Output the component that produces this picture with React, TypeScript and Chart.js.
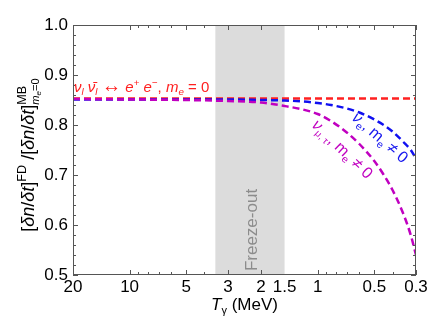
import React, { useEffect, useRef } from "react";
import { Chart, registerables } from "chart.js";

Chart.register(...registerables);

// ---- data ----
const T_VALUES = [20, 10, 5, 3, 2, 1.5, 1.2, 1, 0.85, 0.7, 0.6, 0.5, 0.45, 0.4, 0.35, 0.32, 0.3];
const RED_MASSLESS = [0.853, 0.853, 0.853, 0.853, 0.853, 0.853, 0.853, 0.853, 0.853, 0.853, 0.853, 0.853, 0.853, 0.853, 0.853, 0.853, 0.853];
const BLUE_NUE = [0.851, 0.851, 0.851, 0.851, 0.85, 0.849, 0.847, 0.844, 0.84, 0.833, 0.825, 0.811, 0.801, 0.787, 0.766, 0.75, 0.733];
const MAGENTA_NUMUTAU = [0.852, 0.851, 0.85, 0.848, 0.845, 0.838, 0.831, 0.822, 0.808, 0.785, 0.762, 0.728, 0.703, 0.67, 0.622, 0.58, 0.54];

const X_TICK_LABELS = [20, 10, 5, 3, 2, 1.5, 1, 0.5, 0.3];
const X_MINOR_TICKS = [20, 10, 9, 8, 7, 6, 5, 4, 3, 2, 1, 0.9, 0.8, 0.7, 0.6, 0.5, 0.4, 0.3];
const Y_TICK_LABELS = [0.5, 0.6, 0.7, 0.8, 0.9, 1.0];
const FREEZE_OUT = [3.5, 1.5];

const FAMILY = '"Liberation Sans", "DejaVu Sans", sans-serif';

type Run = { t?: string; italic?: boolean; scale?: number; dy?: number; group?: Run[][] };

function fontFor(r: Run, base: number) {
  const size = base * (r.scale ?? 1);
  return `${r.italic ? "italic " : ""}${size}px ${FAMILY}`;
}

function measureRuns(ctx: CanvasRenderingContext2D, runs: Run[], base: number): number {
  let w = 0;
  for (const r of runs) {
    if (r.group) {
      w += Math.max(...r.group.map((g) => measureRuns(ctx, g, base)));
    } else {
      ctx.font = fontFor(r, base);
      w += ctx.measureText(r.t || "").width;
    }
  }
  return w;
}

function paintRuns(ctx: CanvasRenderingContext2D, runs: Run[], base: number, x0: number) {
  let cx = x0;
  for (const r of runs) {
    if (r.group) {
      let maxW = 0;
      for (const g of r.group) {
        const w = paintRuns(ctx, g, base, cx) - cx;
        maxW = Math.max(maxW, w);
      }
      cx += maxW;
    } else {
      ctx.font = fontFor(r, base);
      ctx.fillText(r.t || "", cx, (r.dy ?? 0) * base);
      cx += ctx.measureText(r.t || "").width;
    }
  }
  return cx;
}

function drawRuns(
  ctx: CanvasRenderingContext2D,
  runs: Run[],
  base: number,
  x: number,
  y: number,
  angle: number,
  color: string,
  align: "left" | "center"
) {
  ctx.save();
  ctx.translate(x, y);
  ctx.rotate(angle);
  ctx.fillStyle = color;
  ctx.textBaseline = "alphabetic";
  ctx.textAlign = "left";
  const total = measureRuns(ctx, runs, base);
  const start = align === "center" ? -total / 2 : 0;
  paintRuns(ctx, runs, base, start);
  ctx.restore();
}

const Y_TITLE: Run[] = [
  { t: "[" },
  { t: "δn", italic: true },
  { t: "/" },
  { t: "δt", italic: true },
  { t: "]" },
  { t: "FD", scale: 0.7, dy: -0.42 },
  { t: " /" },
  { t: "[" },
  { t: "δn", italic: true },
  { t: "/" },
  { t: "δt", italic: true },
  { t: "]" },
  {
    group: [
      [{ t: "MB", scale: 0.7, dy: -0.42 }],
      [
        { t: "m", italic: true, scale: 0.62, dy: 0.3 },
        { t: "e", italic: true, scale: 0.45, dy: 0.4 },
        { t: "=0", scale: 0.62, dy: 0.3 },
      ],
    ],
  },
];

const X_TITLE: Run[] = [
  { t: "T", italic: true },
  { t: "γ", scale: 0.65, dy: 0.25 },
  { t: " (MeV)" },
];

const RED_LABEL: Run[] = [
  { t: "ν", italic: true },
  { t: "l", italic: true, scale: 0.65, dy: 0.22 },
  { t: " " },
  { t: "ν̄", italic: true },
  { t: "l", italic: true, scale: 0.65, dy: 0.22 },
  { t: " " },
  { t: "↔", scale: 1.3, dy: -0.02 },
  { t: " " },
  { t: "e", italic: true },
  { t: "+", scale: 0.65, dy: -0.4 },
  { t: " " },
  { t: "e", italic: true },
  { t: "−", scale: 0.65, dy: -0.4 },
  { t: ", " },
  { t: "m", italic: true },
  { t: "e", italic: true, scale: 0.65, dy: 0.22 },
  { t: " = 0" },
];

const BLUE_LABEL: Run[] = [
  { t: "ν", italic: true },
  { t: "e", scale: 0.65, dy: 0.22 },
  { t: ", " },
  { t: "m" },
  { t: "e", scale: 0.65, dy: 0.22 },
  { t: " ≠ " },
  { t: "0" },
];

const MAGENTA_LABEL: Run[] = [
  { t: "ν", italic: true },
  { t: "μ, τ", scale: 0.6, dy: 0.22 },
  { t: ", " },
  { t: "m" },
  { t: "e", scale: 0.65, dy: 0.22 },
  { t: " ≠ " },
  { t: "0" },
];

const decorPlugin = {
  id: "decor",
  beforeDatasetsDraw(chart: any) {
    const { ctx, chartArea: a, scales } = chart;
    const x = scales.x;
    const x1 = x.getPixelForValue(FREEZE_OUT[0]);
    const x2 = x.getPixelForValue(FREEZE_OUT[1]);
    ctx.save();
    ctx.fillStyle = "#dcdcdc";
    ctx.fillRect(Math.min(x1, x2), a.top, Math.abs(x2 - x1), a.bottom - a.top);
    ctx.restore();
    const cx = (x1 + x2) / 2;
    drawRuns(ctx, [{ t: "Freeze-out" }], 17, cx + 7, 230, -Math.PI / 2, "#8c8c8c", "center");
  },
  afterDatasetsDraw(chart: any) {
    const { ctx, chartArea: a, scales } = chart;
    const xs = scales.x;
    const ys = scales.y;
    ctx.save();
    ctx.strokeStyle = "#555";
    ctx.lineWidth = 1;
    ctx.strokeRect(a.left + 0.5, a.top + 0.5, a.right - a.left - 1, a.bottom - a.top - 1);
    ctx.beginPath();
    for (let i = 0; i <= 25; i++) {
      const v = 0.5 + i * 0.02;
      const py = Math.round(ys.getPixelForValue(v)) + 0.5;
      const len = i % 5 === 0 ? 5 : 3;
      ctx.moveTo(a.left, py);
      ctx.lineTo(a.left + len, py);
      ctx.moveTo(a.right, py);
      ctx.lineTo(a.right - len, py);
    }
    for (const v of X_MINOR_TICKS) {
      const px = Math.round(xs.getPixelForValue(v)) + 0.5;
      const len = X_TICK_LABELS.includes(v) ? 5 : 3;
      ctx.moveTo(px, a.bottom);
      ctx.lineTo(px, a.bottom - len);
      ctx.moveTo(px, a.top);
      ctx.lineTo(px, a.top + len);
    }
    ctx.stroke();
    ctx.restore();

    drawRuns(ctx, Y_TITLE, 18, 34, (a.top + a.bottom) / 2 + 5, -Math.PI / 2, "#000", "center");
    drawRuns(ctx, X_TITLE, 17, (a.left + a.right) / 2, 310, 0, "#000", "center");
    drawRuns(ctx, RED_LABEL, 15, 74, 92, 0, "#ff2020", "left");
    drawRuns(ctx, BLUE_LABEL, 16, 351, 119, (41 * Math.PI) / 180, "#1515ee", "left");
    drawRuns(ctx, MAGENTA_LABEL, 16, 311, 126, (44 * Math.PI) / 180, "#c000c0", "left");
  },
};

function toPoints(arr: number[]) {
  return T_VALUES.map((t, i) => ({ x: t, y: arr[i] }));
}

export default function App() {
  const ref = useRef<HTMLCanvasElement | null>(null);
  useEffect(() => {
    document.body.style.margin = "0";
    const canvas = ref.current!;
    const lineStyle = {
      borderWidth: 2.5,
      borderDash: [7, 4],
      pointRadius: 0,
      fill: false,
      cubicInterpolationMode: "monotone" as const,
    };
    const chart = new Chart(canvas, {
      type: "line",
      data: {
        datasets: [
          { ...lineStyle, label: "mu,tau", data: toPoints(MAGENTA_NUMUTAU), borderColor: "#c000c0" },
          { ...lineStyle, label: "e", data: toPoints(BLUE_NUE), borderColor: "#1010f0" },
          { ...lineStyle, label: "massless", data: toPoints(RED_MASSLESS), borderColor: "#ff2020" },
        ],
      },
      options: {
        animation: false,
        responsive: false,
        maintainAspectRatio: false,
        layout: { padding: { top: 25, right: 31, left: 0, bottom: 0 } },
        plugins: { legend: { display: false }, tooltip: { enabled: false } },
        scales: {
          x: {
            type: "logarithmic",
            reverse: true,
            min: 0.3,
            max: 20,
            position: "bottom",
            grid: { display: false, drawTicks: false },
            border: { display: false },
            afterBuildTicks: (s: any) => {
              s.ticks = X_TICK_LABELS.map((v) => ({ value: v }));
            },
            afterFit: (s: any) => {
              s.height = 60;
            },
            ticks: {
              autoSkip: false,
              maxRotation: 0,
              minRotation: 0,
              padding: 2,
              color: "#000",
              font: { size: 17, family: FAMILY },
              callback: (v: any) => String(Number(v)),
            },
          },
          y: {
            type: "linear",
            min: 0.5,
            max: 1.0,
            grid: { display: false, drawTicks: false },
            border: { display: false },
            afterBuildTicks: (s: any) => {
              s.ticks = Y_TICK_LABELS.map((v) => ({ value: v }));
            },
            afterFit: (s: any) => {
              s.width = 73;
            },
            ticks: {
              padding: 5,
              color: "#000",
              font: { size: 17, family: FAMILY },
              callback: (v: any) => Number(v).toFixed(1),
            },
          },
        },
      },
      plugins: [decorPlugin],
    });
    return () => chart.destroy();
  }, []);
  return <canvas ref={ref} width={447} height={335} style={{ display: "block", width: 447, height: 335 }} />;
}
